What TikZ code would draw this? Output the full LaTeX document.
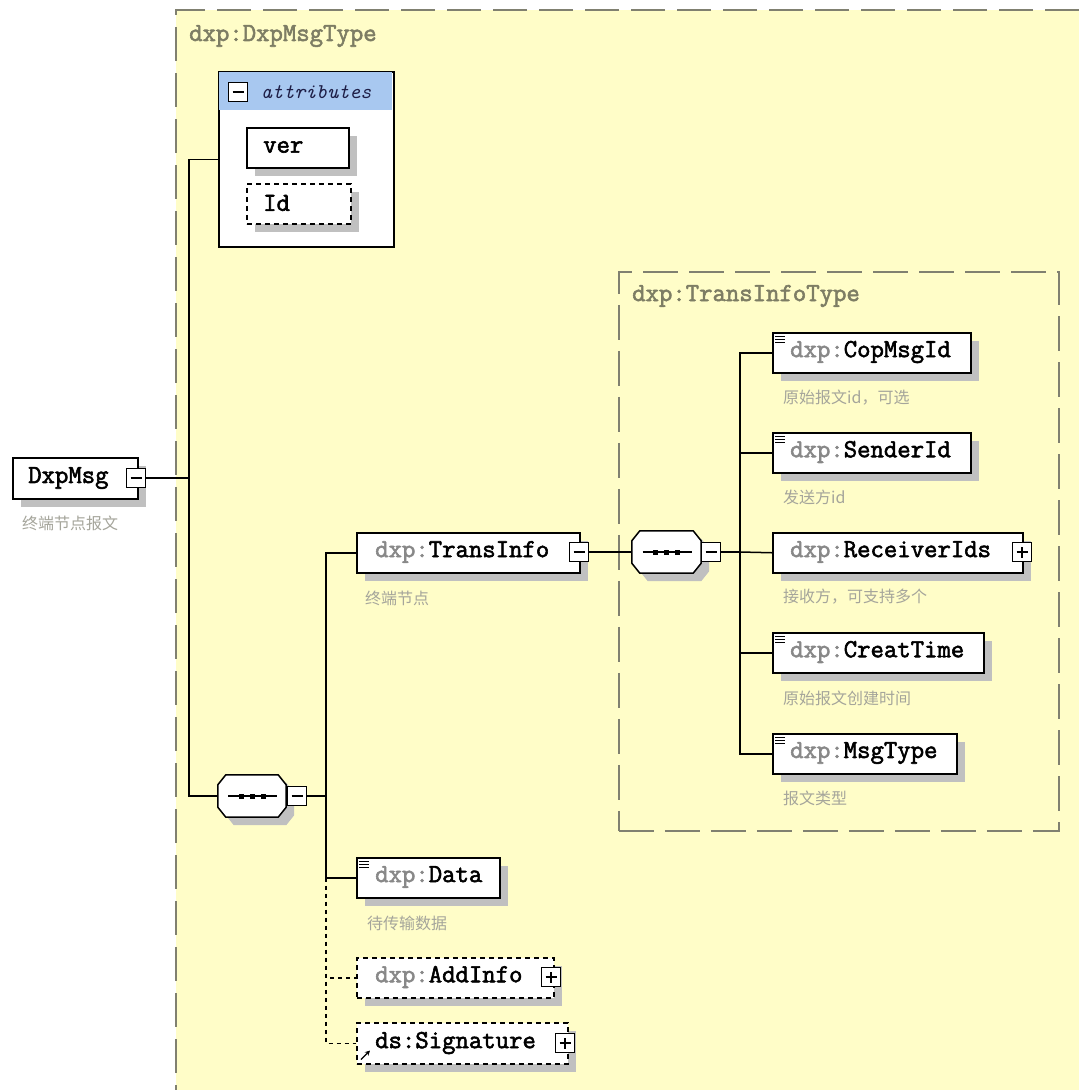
\documentclass[tikz,border=0pt]{standalone}
\usepackage{fontspec}
\newfontfamily\cjk{Noto Sans CJK SC}
\newfontfamily\nmfont[FakeBold=2.2]{Latin Modern Mono}
\usetikzlibrary{shadows,calc,arrows.meta}
\definecolor{bgyellow}{RGB}{255,253,200}
\definecolor{shadowgray}{RGB}{192,192,192}
\definecolor{dashgray}{RGB}{128,128,112}
\definecolor{titlegray}{RGB}{125,125,100}
\definecolor{pfxgray}{RGB}{136,136,136}
\definecolor{descgray}{RGB}{165,165,155}
\definecolor{attrblue}{RGB}{168,200,240}
\definecolor{attrtext}{RGB}{30,30,70}
\newcommand\pfx[1]{\textcolor{pfxgray}{#1}}
\newcommand\octpath[1]{($(#1.north west)+(8,0)$) -- ($(#1.north east)+(-8,0)$) -- ($(#1.north east)+(0,10)$) -- ($(#1.south east)+(0,-10)$) -- ($(#1.south east)+(-8,0)$) -- ($(#1.south west)+(8,0)$) -- ($(#1.south west)+(0,-10)$) -- ($(#1.north west)+(0,10)$) -- cycle}
\newcommand\octo[1]{%
  \fill[shadowgray, transform canvas={shift={(8pt,-8pt)}}] \octpath{#1};
  \draw[line width=1.5pt, fill=white] \octpath{#1};
  \draw[line width=1.5pt] ($(#1.center)+(-24,0)$) -- ($(#1.center)+(25,0)$);
  \foreach \dx in {-11,0,11} {\fill ($(#1.center)+(\dx-2.5,-2.5)$) rectangle +(5,5);}
}
\newcommand\simpleicon[1]{%
  \foreach \dy in {4.5,7.5,10.5} {\draw[line width=1pt] ($(#1.north west)+(3,\dy)$) -- +(10,0);}
}
\tikzset{
  elem/.style={draw=black, line width=1.5pt, fill=white, rectangle, inner sep=0pt, anchor=north west,
    general shadow={fill=shadowgray, shadow xshift=8pt, shadow yshift=-8pt}},
  optelem/.style={elem, dash pattern=on 5pt off 4pt},
  nm/.style={inner sep=0pt, anchor=west, font=\fontsize{26}{26}\selectfont\nmfont},
  ttl/.style={nm, text=titlegray},
  desc/.style={inner sep=0pt, anchor=west, text=descgray, font=\fontsize{16}{16}\selectfont\cjk},
  togglebox/.style={draw=black, fill=white, line width=1.2pt, minimum size=19pt, inner sep=0pt},
  minusbox/.style={togglebox, path picture={\draw[line width=1.2pt] ([xshift=4pt]path picture bounding box.west) -- ([xshift=-4pt]path picture bounding box.east);}},
  plusbox/.style={togglebox, path picture={\draw[line width=1.2pt] ([xshift=4pt]path picture bounding box.west) -- ([xshift=-4pt]path picture bounding box.east); \draw[line width=1.2pt] ([yshift=4pt]path picture bounding box.south) -- ([yshift=-4pt]path picture bounding box.north);}},
  seqbox/.style={inner sep=0pt, minimum width=68pt, minimum height=42pt},
  conn/.style={line width=1.5pt, draw=black},
  optconn/.style={conn, dash pattern=on 4pt off 4pt},
}
\begin{document}
\begin{tikzpicture}[x=1pt, y=-1pt]
\useasboundingbox (0,0) rectangle (1079,1090);
\fill[white] (0,0) rectangle (1079,1090);
% outer type area
\fill[bgyellow] (176,10) rectangle (1079,1090);
\draw[dashgray, line width=1.5pt, dash pattern=on 34pt off 12pt] (1079,10) -- (176,10) -- (176,1090);
\node[ttl] (outertitle) at (189,36) {dxp:DxpMsgType};

% root element
\node[elem, minimum width=125pt, minimum height=41pt] (dxpmsg) at (12,457) {};
\node[nm] (dxpmsgt) at (28,478) {DxpMsg};
\node[minusbox] (dxpmsgm) at (136,478) {};
\node[desc] (dxpmsgd) at (22,523) {终端节点报文};

% attributes
\node[draw=black, line width=1.5pt, fill=white, anchor=north west, minimum width=175pt, minimum height=175pt, inner sep=0pt] (attr) at (218,71) {};
\node[fill=attrblue, anchor=north west, minimum width=173.5pt, minimum height=38pt, inner sep=0pt] (attrh) at (218.75,71.75) {};
\node[minusbox] (attrm) at (238,92) {};
\node[inner sep=0pt, anchor=west, text=attrtext, font=\fontsize{21}{21}\selectfont\ttfamily\itshape] (attrt) at (261,92) {attributes};
\node[elem, minimum width=102pt, minimum height=40pt] (ver) at (246,127) {};
\node[nm] (vert) at (263,147) {ver};
\node[optelem, minimum width=104pt, minimum height=40pt] (id) at (246,183) {};
\node[nm] (idt) at (263,203) {Id};

% sequence 1
\node[seqbox] (seq1) at (252,796) {};
\octo{seq1}
\node[minusbox] (seq1m) at (297,796) {};
\coordinate (bus1) at (189,478);
\coordinate (bus2) at (326,796);
\draw[conn] (dxpmsgm.east) -- (bus1);
\draw[conn] (attr.west) -| (bus1) |- (seq1.west);

% TransInfo
\node[elem, minimum width=223pt, minimum height=40pt] (ti) at (356,532) {};
\node[nm] (tit) at (375,552) {\pfx{dxp:}TransInfo};
\node[minusbox] (tim) at (579,552) {};
\node[desc] (tid) at (365,598) {终端节点};

% Data and optional
\node[elem, minimum width=143pt, minimum height=40pt] (data) at (356,857) {};
\simpleicon{data}
\node[nm] (datat) at (375,877) {\pfx{dxp:}Data};
\node[desc] (datad) at (367,923) {待传输数据};
\node[optelem, minimum width=197pt, minimum height=40pt] (add) at (356,957) {};
\node[nm] (addt) at (375,977) {\pfx{dxp:}AddInfo};
\node[plusbox] (addp) at (551,977) {};
\node[optelem, minimum width=211pt, minimum height=41pt] (sig) at (356,1022) {};
\node[nm] (sigt) at (375,1043) {ds:Signature};
\node[plusbox] (sigp) at (565,1043) {};
\coordinate (sigref) at ($(sig.south west)+(5,-5)$);
\draw[line width=1.2pt, -{Stealth[length=5pt,width=5pt]}] (sigref) -- ++(9,-9);

\draw[conn] (seq1m.east) -- (bus2);
\draw[conn] (ti.west) -| (bus2) |- (data.west);
\coordinate (bus2d) at (data.west -| bus2);
\draw[optconn] (bus2d) |- (add.west);
\draw[optconn] (bus2d) |- (sig.west);

% TransInfoType
\node[draw=dashgray, dash pattern=on 35pt off 11pt, line width=1.5pt, anchor=north west, minimum width=440pt, minimum height=559pt, inner sep=0pt] (tibox) at (618,271) {};
\node[ttl] (tiboxt) at (632,296) {dxp:TransInfoType};

\node[seqbox, minimum width=69pt] (seq2) at (666.5,552) {};
\octo{seq2}
\node[minusbox] (seq2m) at (711,552) {};
\draw[conn] (tim.east) -- (seq2.west);
\coordinate (bus3) at (740,552);
\draw[conn] (seq2m.east) -- (bus3);

\node[elem, minimum width=198pt, minimum height=40pt] (cop) at (772,332) {};
\simpleicon{cop}
\node[nm] (copt) at (790,352) {\pfx{dxp:}CopMsgId};
\node[desc] (copd) at (783,398) {原始报文id，可选};

\node[elem, minimum width=198pt, minimum height=40pt] (snd) at (772,432) {};
\simpleicon{snd}
\node[nm] (sndt) at (790,452) {\pfx{dxp:}SenderId};
\node[desc] (sndd) at (783,497) {发送方id};

\node[elem, minimum width=250pt, minimum height=40pt] (rcv) at (772,532) {};
\node[nm] (rcvt) at (790,552) {\pfx{dxp:}ReceiverIds};
\node[plusbox] (rcvp) at (1022,552) {};
\node[desc] (rcvd) at (783,597) {接收方，可支持多个};

\node[elem, minimum width=211pt, minimum height=40pt] (crt) at (772,632) {};
\simpleicon{crt}
\node[nm] (crtt) at (790,652) {\pfx{dxp:}CreatTime};
\node[desc] (crtd) at (783,698) {原始报文创建时间};

\node[elem, minimum width=184pt, minimum height=40pt] (mty) at (772,733) {};
\simpleicon{mty}
\node[nm] (mtyt) at (790,753) {\pfx{dxp:}MsgType};
\node[desc] (mtyd) at (783,798) {报文类型};

\draw[conn] (cop.west) -| (bus3) |- (mty.west);
\draw[conn] (snd.west) -- (snd.west -| bus3);
\draw[conn] (rcv.west) -- (bus3);
\draw[conn] (crt.west) -- (crt.west -| bus3);
\end{tikzpicture}
\end{document}
